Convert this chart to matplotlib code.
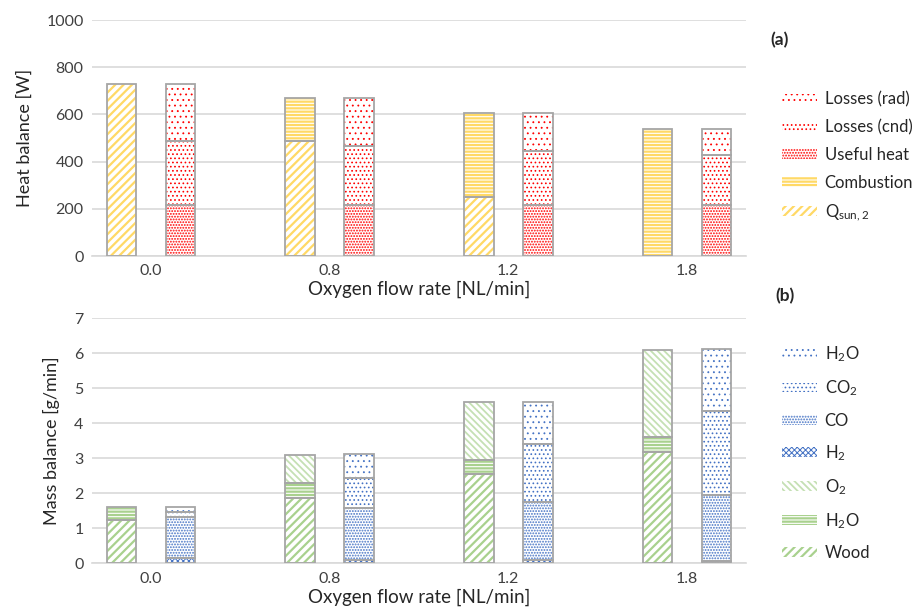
import numpy as np
import matplotlib
matplotlib.use("Agg")
import matplotlib.pyplot as plt
from matplotlib.patches import Patch

plt.rcParams['font.family'] = ['Lato', 'DejaVu Sans']
plt.rcParams['mathtext.fontset'] = 'custom'
plt.rcParams['mathtext.rm'] = 'Lato'
plt.rcParams['mathtext.it'] = 'Lato'

flow = ['0.0', '0.8', '1.2', '1.8']

# heat balance [W]
q_sun = [730, 488, 248, 0]
combustion = [0, 182, 357, 540]
useful_heat = [215, 215, 215, 215]
loss_cnd = [272, 252, 230, 212]
loss_rad = [243, 203, 160, 113]

# mass balance [g/min], inputs
wood = [1.24, 1.88, 2.54, 3.19]
h2o_in = [0.36, 0.41, 0.41, 0.41]
o2_in = [0.0, 0.80, 1.65, 2.49]
# outputs
h2 = [0.14, 0.09, 0.09, 0.07]
co = [1.19, 1.48, 1.67, 1.88]
co2 = [0.14, 0.86, 1.65, 2.41]
h2o_out = [0.13, 0.69, 1.21, 1.76]

EDGE = '#A6A6A6'
x = np.arange(len(flow))
w = 0.167
off = 0.165


def stack(ax, pos, series):
    bottom = np.zeros(len(flow))
    handles = []
    for vals, color, hatch, hlw, label in series:
        vals = np.array(vals, dtype=float)
        bars = ax.bar(pos, vals, w, bottom=bottom, color='white', edgecolor=color,
                      hatch=hatch, linewidth=0, zorder=2)
        for b in bars:
            b.set_hatch_linewidth(hlw)
        mask = vals > 0
        ax.bar(pos[mask], vals[mask], w, bottom=bottom[mask], fill=False,
               edgecolor=EDGE, linewidth=1.3, zorder=3)
        bottom = bottom + vals
        handles.append((color, hatch, hlw, label))
    return handles


def style(ax, ymax, step):
    ax.set_xlim(-0.33, 3.33)
    ax.set_ylim(0, ymax)
    ax.set_yticks(np.arange(0, ymax + step / 2, step))
    ax.set_xticks(x)
    ax.set_xticklabels(flow)
    for s in ['top', 'right', 'left']:
        ax.spines[s].set_visible(False)
    ax.spines['bottom'].set_color('#D9D9D9')
    ax.spines['bottom'].set_linewidth(1.2)
    ax.tick_params(length=0, labelsize=11.5, colors='#404040', pad=6)
    ax.grid(axis='y', color='#D9D9D9', linewidth=1.2, zorder=0)
    ax.set_axisbelow(True)
    ax.set_xlabel('Oxygen flow rate [NL/min]', fontsize=13.5, color='#262626', labelpad=2)


def legend(ax, specs, y, spacing):
    hs = [Patch(facecolor='white', edgecolor=c, hatch=h, linewidth=0, label=l)
          for c, h, lw, l in specs[::-1]]
    leg = ax.legend(handles=hs, loc='upper left', bbox_to_anchor=(1.045, y),
                    frameon=False, fontsize=12, labelspacing=spacing,
                    handlelength=2.1, handleheight=0.5, handletextpad=0.45,
                    labelcolor='#262626', borderaxespad=0)
    for p, spec in zip(leg.get_patches(), specs[::-1]):
        p.set_hatch_linewidth(spec[2])
        p.set_edgecolor(spec[0])
        p.set_linewidth(0)
    return leg


fig = plt.figure(figsize=(9.17, 6.10), dpi=100)
ax1 = fig.add_axes([0.1003, 0.5803, 0.7132, 0.3869])
ax2 = fig.add_axes([0.1003, 0.0765, 0.7132, 0.4016])

YEL = '#FFD966'
RED = '#FF0000'
h_in = stack(ax1, x - off, [(q_sun, YEL, '////', 1.6, r'Q$_{\mathrm{sun,2}}$'),
                            (combustion, YEL, '-----', 1.6, 'Combustion')])
h_out = stack(ax1, x + off, [(useful_heat, RED, '......', 0.9, 'Useful heat'),
                             (loss_cnd, RED, '....', 0.7, 'Losses (cnd)'),
                             (loss_rad, RED, '...', 0.6, 'Losses (rad)')])
style(ax1, 1000, 200)
ax1.set_ylabel('Heat balance [W]', fontsize=13, color='#262626', labelpad=10)
legend(ax1, h_in + h_out, 0.725, 0.7)
ax1.text(1.037, 0.915, '(a)', transform=ax1.transAxes, fontsize=12.5,
         fontweight='bold', color='#262626', va='center')

GRN = '#A9D18E'
GRN2 = '#C5E0B4'
BLU = '#4472C4'
g_in = stack(ax2, x - off, [(wood, GRN, '////', 1.6, 'Wood'),
                            (h2o_in, GRN, '-----', 1.6, r'H$_2$O'),
                            (o2_in, GRN2, '\\\\\\\\\\', 1.3, r'O$_2$')])
g_out = stack(ax2, x + off, [(h2, BLU, 'xxxxxx', 0.7, r'H$_2$'),
                             (co, BLU, '......', 0.9, 'CO'),
                             (co2, BLU, '....', 0.7, r'CO$_2$'),
                             (h2o_out, BLU, '...', 0.6, r'H$_2$O')])
style(ax2, 7, 1)
ax2.set_ylabel('Mass balance [g/min]', fontsize=13, color='#262626', labelpad=10)
legend(ax2, g_in + g_out, 0.92, 0.86)
ax2.text(1.045, 1.09, '(b)', transform=ax2.transAxes, fontsize=12.5,
         fontweight='bold', color='#262626', va='center')

fig.savefig('out.png', dpi=100)
